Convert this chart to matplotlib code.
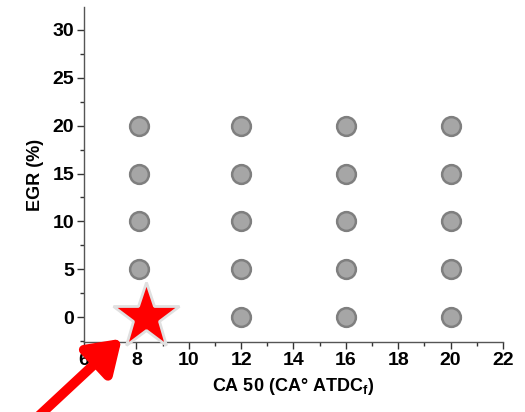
import matplotlib
matplotlib.use("Agg")
import matplotlib.pyplot as plt
from matplotlib.patches import FancyArrowPatch
from matplotlib.ticker import MultipleLocator

plt.rcParams['font.family'] = ['Liberation Sans', 'DejaVu Sans']
plt.rcParams['mathtext.fontset'] = 'custom'
plt.rcParams['mathtext.bf'] = 'Liberation Sans:bold'
plt.rcParams['mathtext.rm'] = 'Liberation Sans'

# operating points (CA50, EGR)
ca50_pts = [8.1, 8.1, 8.1, 8.1,
            12, 12, 12, 12, 12,
            16, 16, 16, 16, 16,
            20, 20, 20, 20, 20]
egr_pts = [5, 10, 15, 20,
           0, 5, 10, 15, 20,
           0, 5, 10, 15, 20,
           0, 5, 10, 15, 20]

# baseline point (star)
star_ca50 = [8.35]
star_egr = [0]

x_ticks = [6, 8, 10, 12, 14, 16, 18, 20, 22]
y_ticks = [0, 5, 10, 15, 20, 25, 30]

fig = plt.figure(figsize=(5.25, 4.12), dpi=100, facecolor='white')
ax = fig.add_axes([0.16, 0.17, 0.798, 0.813])

ax.plot(ca50_pts, egr_pts, 'o', ls='none', ms=13.5,
        mfc='#a6a6a6', mec='#7f7f7f', mew=1.8, zorder=3)
ax.plot(star_ca50, star_egr, '*', ls='none', ms=50,
        mfc='#ff0000', mec='#e0e0e0', mew=2, zorder=4, clip_on=False)

ax.set_xlim(6, 22)
ax.set_ylim(-2.6, 32.4)
ax.set_xticks(x_ticks)
ax.set_yticks(y_ticks)
ax.xaxis.set_minor_locator(MultipleLocator(1))
ax.yaxis.set_minor_locator(MultipleLocator(2.5))

for s in ['top', 'right']:
    ax.spines[s].set_visible(False)
for s in ['left', 'bottom']:
    ax.spines[s].set_color('#555555')
    ax.spines[s].set_linewidth(1.0)

ax.tick_params(which='major', direction='out', length=5, width=1,
               color='#333333', labelsize=14, pad=2)
ax.tick_params(which='minor', direction='out', length=3, width=1,
               color='#333333')
for lbl in ax.get_xticklabels() + ax.get_yticklabels():
    lbl.set_fontweight('bold')

ax.set_xlabel(r'CA 50 (CA° ATDC$_\mathbf{f}$)', fontsize=13,
              fontweight='bold', labelpad=5)
ax.set_ylabel('EGR (%)', fontsize=13, fontweight='bold', labelpad=6)

# red arrow pointing at the baseline point
fig.add_artist(FancyArrowPatch(
    (0.065, -0.02), (0.232, 0.178), transform=fig.transFigure,
    arrowstyle='-|>,head_length=12,head_width=8', mutation_scale=1.6,
    color='#ff0000', lw=7, shrinkA=0, shrinkB=0, zorder=5))

fig.savefig('out.png', dpi=100, facecolor='white')
